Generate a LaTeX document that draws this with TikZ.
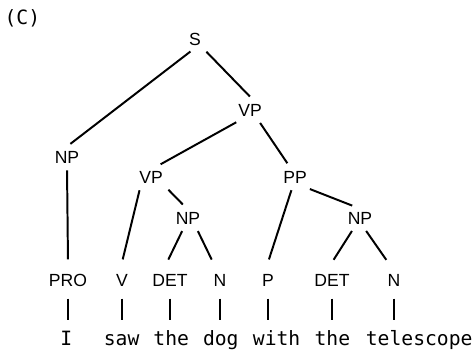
\documentclass[tikz,border=0pt]{standalone}
\usepackage{fontspec}
\setmainfont{Liberation Sans}
\newfontfamily\treemono{DejaVu Sans Mono}
\begin{document}
\begin{tikzpicture}[line width=1.4pt,
  cat/.style={font=\fontsize{12.5}{14}\selectfont, inner xsep=1mm, inner ysep=1mm, text height=3.16mm, text depth=0pt},
  pre/.style={cat, inner ysep=2.6mm},
  word/.style={font=\treemono\fontsize{14}{16}\selectfont, anchor=base, inner sep=0pt, text height=3.4mm, text depth=1mm},
  branch/.style={shorten <=0.5mm, shorten >=0.75mm},
  bar/.style={shorten <=0.2mm, shorten >=2.85mm}]
\useasboundingbox (0,0) rectangle (118.75mm,-88.25mm);
\node[font=\treemono\fontsize{14}{16}\selectfont] (tag) at (5.6mm,-4.5mm) {(C)};

\node[cat] (s) at (48.75mm,-9.75mm) {S};
\node[cat] (vp1) at (62.5mm,-27.5mm) {VP};
\node[cat] (np1) at (16.75mm,-39.25mm) {NP};
\node[cat] (vp2) at (37.75mm,-44.25mm) {VP};
\node[cat] (pp) at (73.75mm,-44.25mm) {PP};
\node[cat] (np2) at (47mm,-54.5mm) {NP};
\node[cat] (np3) at (90mm,-54.5mm) {NP};

\node[pre] (pro) at (17mm,-70mm) {PRO};
\node[pre] (v) at (30.5mm,-70mm) {V};
\node[pre] (det1) at (42.5mm,-70mm) {DET};
\node[pre] (n1) at (55mm,-70mm) {N};
\node[pre] (p) at (67mm,-70mm) {P};
\node[pre] (det2) at (83mm,-70mm) {DET};
\node[pre] (n2) at (98.5mm,-70mm) {N};

\node[word] (wi) at (16.6mm,-86.4mm) {I};
\node[word] (wsaw) at (30.4mm,-86.4mm) {saw};
\node[word] (wthe1) at (42.8mm,-86.4mm) {the};
\node[word] (wdog) at (55.2mm,-86.4mm) {dog};
\node[word] (wwith) at (69.15mm,-86.4mm) {with};
\node[word] (wthe2) at (83.1mm,-86.4mm) {the};
\node[word] (wtel) at (104.8mm,-86.4mm) {telescope};

\foreach \a/\b/\c/\d in {s/np1/-0.75/0.25, s/vp1/2.5/0.5, vp1/vp2/-3/1.75, vp1/pp/2.25/-1.5,
    vp2/v/-2.75/0, vp2/np2/4/-0.75, np2/det1/-1.25/-0.75, np2/n1/2.25/-1.75, np1/pro/0/0,
    pp/p/-0.75/0, pp/np3/3.25/-1.25, np3/det2/-1.75/0, np3/n2/1.25/-1.5}
  \draw[branch] ([xshift=\c mm]\a.south) -- ([xshift=\d mm]\b.north);

\foreach \a/\b in {pro/wi, v/wsaw, det1/wthe1, n1/wdog, p/wwith, det2/wthe2, n2/wtel}
  \draw[bar] (\a.south) -- (\a.south |- \b.north);
\end{tikzpicture}
\end{document}
